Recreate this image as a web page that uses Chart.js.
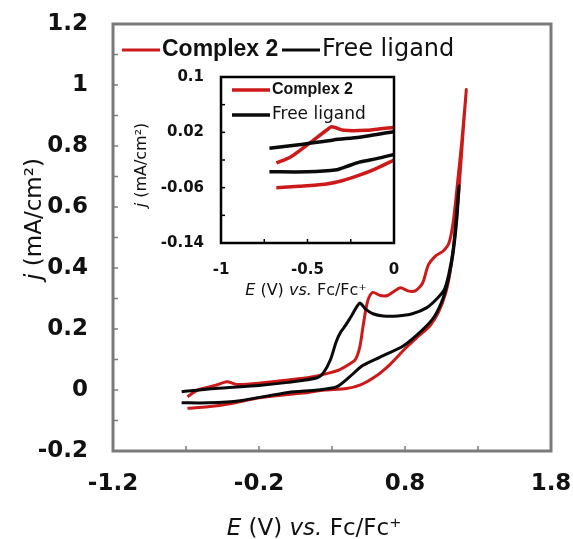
<!DOCTYPE html>
<html>
<head>
<meta charset="utf-8">
<script src="https://cdn.jsdelivr.net/npm/chart.js@4.4.1/dist/chart.umd.min.js"></script>
<style>
  html, body { margin: 0; padding: 0; background: #fff; }
  #wrap { position: relative; width: 573px; height: 539px; }
  #main { position: absolute; left: 0; top: 0; }
  #inset { position: absolute; left: 120px; top: 60px; }
</style>
</head>
<body>
<div id="wrap">
  <canvas id="main" width="573" height="539"></canvas>
  <canvas id="inset" width="290" height="245"></canvas>
</div>
<script>
// CV loops: forward scan first, then the return scan
// E in V vs Fc/Fc+, j in mA/cm2
const complexE = [-0.69, -0.62, -0.5, -0.42, -0.35, -0.2, 0.0, 0.15, 0.25, 0.35, 0.42, 0.46, 0.49, 0.51, 0.53, 0.55, 0.58, 0.63, 0.68, 0.73, 0.77, 0.82, 0.87, 0.92, 0.96, 1.01, 1.06, 1.1, 1.13, 1.16, 1.19, 1.22,
                  1.2, 1.17, 1.14, 1.11, 1.08, 1.03, 0.97, 0.9, 0.81, 0.7, 0.6, 0.5, 0.4, 0.25, 0.1, -0.1, -0.25, -0.4, -0.55, -0.69];
const complexJ = [-0.022, 0.0, 0.015, 0.027, 0.018, 0.022, 0.033, 0.042, 0.052, 0.066, 0.085, 0.1, 0.14, 0.2, 0.26, 0.3, 0.32, 0.31, 0.31, 0.325, 0.335, 0.325, 0.325, 0.35, 0.41, 0.44, 0.455, 0.48, 0.55, 0.68, 0.82, 0.985,
                  0.86, 0.66, 0.5, 0.39, 0.32, 0.255, 0.21, 0.18, 0.14, 0.085, 0.045, 0.018, 0.005, 0.0, -0.01, -0.02, -0.03, -0.045, -0.055, -0.06];

const ligandE = [-0.73, -0.5, -0.2, 0.0, 0.2, 0.24, 0.29, 0.33, 0.36, 0.39, 0.43, 0.49, 0.53, 0.58, 0.65, 0.75, 0.85, 0.95, 1.02, 1.07, 1.1, 1.13, 1.15, 1.17,
                 1.155, 1.13, 1.1, 1.06, 1.0, 0.92, 0.79, 0.63, 0.51, 0.42, 0.33, 0.2, 0.0, -0.33, -0.55, -0.73];
const ligandJ = [-0.006, 0.005, 0.015, 0.025, 0.04, 0.055, 0.1, 0.16, 0.19, 0.21, 0.24, 0.285, 0.265, 0.25, 0.243, 0.243, 0.25, 0.27, 0.3, 0.33, 0.38, 0.46, 0.56, 0.67,
                 0.56, 0.45, 0.37, 0.3, 0.24, 0.197, 0.145, 0.108, 0.08, 0.043, 0.01, 0.0, -0.008, -0.035, -0.042, -0.042];

// inset, -0.7..0 V region
const inComplexUpE = [-0.68, -0.6, -0.49, -0.39, -0.36, -0.29, -0.16, -0.05, 0.0];
const inComplexUpJ = [-0.024, -0.016, 0.004, 0.023, 0.028, 0.023, 0.023, 0.026, 0.027];
const inComplexLowE = [-0.68, -0.55, -0.4, -0.3, -0.2, -0.1, 0.0];
const inComplexLowJ = [-0.06, -0.058, -0.055, -0.05, -0.042, -0.032, -0.02];
const inLigandUpE = [-0.72, -0.55, -0.35, -0.2, -0.1, 0.0];
const inLigandUpJ = [-0.003, 0.002, 0.009, 0.013, 0.017, 0.021];
const inLigandLowE = [-0.72, -0.5, -0.33, -0.28, -0.2, -0.1, 0.0];
const inLigandLowJ = [-0.037, -0.037, -0.034, -0.03, -0.023, -0.018, -0.012];

const xTicks = [-1.2, -0.7, -0.2, 0.3, 0.8, 1.3, 1.8];
const xTickLabels = ["-1.2", "", "-0.2", "", "0.8", "", "1.8"];
const yTicks = [-0.2, -0.1, 0, 0.1, 0.2, 0.3, 0.4, 0.5, 0.6, 0.7, 0.8, 0.9, 1.0, 1.1, 1.2];
const yTickLabels = ["-0.2", "", "0", "", "0.2", "", "0.4", "", "0.6", "", "0.8", "", "1", "", "1.2"];
const inXTicks = [-1, -0.75, -0.5, -0.25, 0];
const inXTickLabels = ["-1", "", "-0.5", "", "0"];
const inYTicks = [-0.14, -0.1, -0.06, -0.02, 0.02, 0.06, 0.1];
const inYTickLabels = ["-0.14", "", "-0.06", "", "0.02", "", "0.1"];

const RED = "#cc1a1a";
const BLACK = "#0a0a0a";
const TXT = "#111";

const pts = (xs, ys) => xs.map((x, i) => ({ x: x, y: ys[i] }));

function line(data, color, width) {
  return { data: data, showLine: true, borderColor: color, borderWidth: width, pointRadius: 0, tension: 0.25, fill: false };
}

// text made of pieces, some italic; centred on (x, y baseline), optionally rotated
function richText(ctx, parts, size, x, y, rot) {
  ctx.save();
  ctx.translate(x, y);
  ctx.rotate(rot || 0);
  const fonts = parts.map(p => (p.it ? "italic " : "") + size + 'px "DejaVu Sans"');
  let w = 0;
  parts.forEach((p, i) => { ctx.font = fonts[i]; w += ctx.measureText(p.t).width; });
  let cx = -w / 2;
  ctx.textAlign = "left";
  ctx.textBaseline = "alphabetic";
  ctx.fillStyle = TXT;
  parts.forEach((p, i) => { ctx.font = fonts[i]; ctx.fillText(p.t, cx, 0); cx += ctx.measureText(p.t).width; });
  ctx.restore();
}

function legendEntry(ctx, x1, x2, y, color, lw, label, font) {
  ctx.save();
  ctx.strokeStyle = color;
  ctx.lineWidth = lw;
  ctx.beginPath(); ctx.moveTo(x1, y); ctx.lineTo(x2, y); ctx.stroke();
  ctx.font = font;
  ctx.fillStyle = TXT;
  ctx.textAlign = "left";
  ctx.textBaseline = "middle";
  ctx.fillText(label, x2 + 2, y);
  ctx.restore();
}

const xTitle = [{ t: "E", it: true }, { t: " (V) " }, { t: "vs.", it: true }, { t: " Fc/Fc\u207A" }];
const yTitle = [{ t: "j", it: true }, { t: " (mA/cm\u00B2)" }];

// pins the plot box, then draws frame, inward ticks, titles, legend
function decor(opt) {
  const [l, t, r, b] = opt.area;
  return {
    id: "decor",
    afterLayout(chart) {
      const { x, y } = chart.scales;
      Object.assign(chart.chartArea, { left: l, top: t, right: r, bottom: b, width: r - l, height: b - t });
      Object.assign(x, { left: l, right: r, width: r - l, top: b, bottom: b + x.height });
      Object.assign(y, { left: l - y.width, right: l, top: t, bottom: b, height: b - t });
      x.configure();
      y.configure();
    },
    afterDraw(chart) {
      const { ctx, scales: { x, y } } = chart;
      ctx.save();
      ctx.strokeStyle = opt.frame;
      ctx.lineWidth = opt.frameWidth;
      ctx.strokeRect(l, t, r - l, b - t);
      ctx.fillStyle = opt.frame;
      x.ticks.forEach(tk => {
        const px = x.getPixelForValue(tk.value);
        ctx.fillRect(px - 0.75, b - opt.tickLen, 1.5, opt.tickLen);
      });
      y.ticks.forEach(tk => {
        const py = y.getPixelForValue(tk.value);
        ctx.fillRect(l, py - 0.75, opt.tickLen, 1.5);
      });
      ctx.restore();
      richText(ctx, xTitle, opt.titleSize, opt.xTitle[0], opt.xTitle[1], 0);
      richText(ctx, yTitle, opt.titleSize, opt.yTitle[0], opt.yTitle[1], -Math.PI / 2);
      opt.legend(ctx);
    }
  };
}

function scaleOpts(min, max, ticks, labels, size, pad, fit) {
  return {
    type: "linear", min: min, max: max,
    grid: { display: false, drawTicks: false },
    border: { display: false },
    afterBuildTicks: s => { s.ticks = ticks.map(v => ({ value: v })); },
    afterFit: fit,
    ticks: {
      autoSkip: false, maxRotation: 0, padding: pad, color: TXT,
      font: { family: "DejaVu Sans", size: size, weight: "bold" },
      callback: (v, i) => labels[i]
    }
  };
}

new Chart(document.getElementById("main"), {
  type: "scatter",
  data: {
    datasets: [
      line(pts(ligandE, ligandJ), BLACK, 3),
      line(pts(complexE, complexJ), RED, 3)
    ]
  },
  options: {
    responsive: false,
    animation: false,
    layout: { padding: { top: 24, right: 22, left: 0, bottom: 0 } },
    plugins: { legend: { display: false }, tooltip: { enabled: false } },
    scales: {
      x: scaleOpts(-1.2, 1.8, xTicks, xTickLabels, 23, 19, s => { s.height = 88; }),
      y: scaleOpts(-0.2, 1.2, yTicks, yTickLabels, 23, 25, s => { s.width = 113; })
    }
  },
  plugins: [decor({
    area: [113, 24, 551, 451],
    frame: "#7a7a7a", frameWidth: 3, tickLen: 5, titleSize: 23,
    xTitle: [314, 535], yTitle: [41, 219],
    legend: ctx => {
      legendEntry(ctx, 122, 160, 50, RED, 3, "Complex 2", 'bold 23px "Liberation Sans"');
      legendEntry(ctx, 282, 320, 50, BLACK, 3, "Free ligand", '24px "DejaVu Sans"');
    }
  })]
});

new Chart(document.getElementById("inset"), {
  type: "scatter",
  data: {
    datasets: [
      line(pts(inLigandUpE, inLigandUpJ), BLACK, 3.5),
      line(pts(inLigandLowE, inLigandLowJ), BLACK, 3.5),
      line(pts(inComplexUpE, inComplexUpJ), RED, 3.5),
      line(pts(inComplexLowE, inComplexLowJ), RED, 3.5)
    ]
  },
  options: {
    responsive: false,
    animation: false,
    layout: { padding: { top: 17, right: 16, left: 0, bottom: 0 } },
    plugins: { legend: { display: false }, tooltip: { enabled: false } },
    scales: {
      x: scaleOpts(-1, 0, inXTicks, inXTickLabels, 15, 18, s => { s.height = 62; }),
      y: scaleOpts(-0.14, 0.1, inYTicks, inYTickLabels, 15, 17, s => { s.width = 101; })
    }
  },
  plugins: [decor({
    area: [101, 17, 274, 183],
    frame: "#000", frameWidth: 2.5, tickLen: 4, titleSize: 16,
    xTitle: [186, 235], yTitle: [26, 105],
    legend: ctx => {
      legendEntry(ctx, 112, 150, 30, RED, 3.5, "Complex 2", 'bold 16px "Liberation Sans"');
      legendEntry(ctx, 112, 150, 55, BLACK, 3.5, "Free ligand", '17px "DejaVu Sans"');
    }
  })]
});
</script>
</body>
</html>
